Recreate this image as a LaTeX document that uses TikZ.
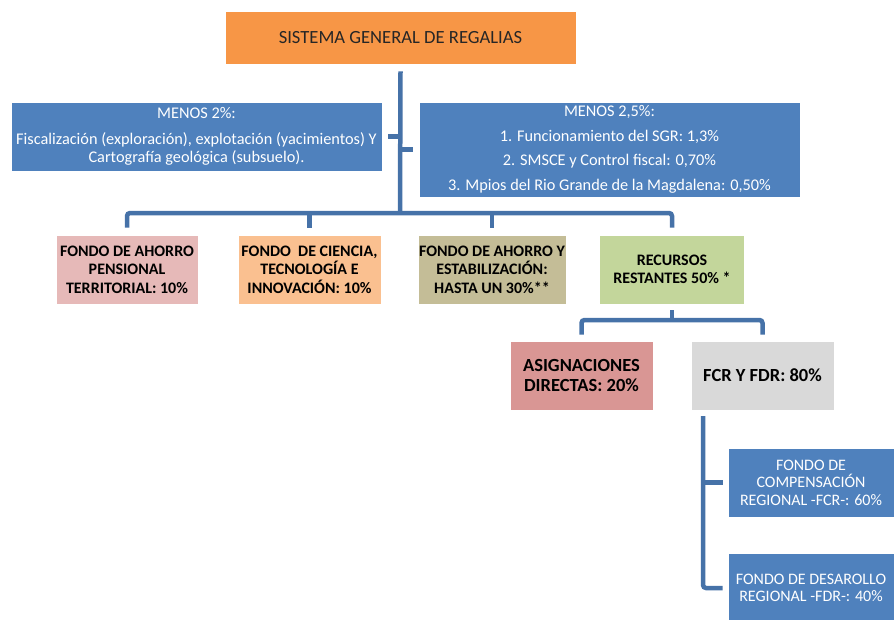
\documentclass[tikz,border=0pt]{standalone}
\usepackage{fontspec}
\setmainfont{Carlito}
\usepackage{tikz}
\definecolor{sgrorange}{HTML}{F79646}
\definecolor{boxblue}{HTML}{4F81BD}
\definecolor{linkblue}{HTML}{4672A8}
\definecolor{pinkbox}{HTML}{E6B9B8}
\definecolor{peachbox}{HTML}{FAC090}
\definecolor{khakibox}{HTML}{C4BD97}
\definecolor{greenbox}{HTML}{C3D69B}
\definecolor{rosebox}{HTML}{D99694}
\definecolor{greybox}{HTML}{D9D9D9}

\begin{document}
\begin{tikzpicture}[x=1pt,y=-1pt,
        box/.style={rectangle, draw=white, line width=0.6pt, align=center, inner sep=1pt},
        bluebox/.style={box, fill=boxblue, text=white},
        fondo/.style={box, minimum width=143pt, minimum height=69pt,
            font=\fontsize{16}{18.5}\selectfont\bfseries},
        conn/.style={draw=linkblue, line width=4.5pt, rounded corners=3pt}]
        \useasboundingbox (0,0) rectangle (894,619);

        \node[box, fill=sgrorange, text=black!85, minimum width=351pt, minimum height=53pt,
            font=\fontsize{18.6}{21}\selectfont] (sgr) at (400.5,37.5) {SISTEMA GENERAL DE REGALIAS};

        \node[bluebox, minimum width=371pt, minimum height=69pt,
            font=\fontsize{16.3}{18}\selectfont] (menos2) at (196.5,136.5)
            {MENOS 2\%:\\[8pt] Fiscalización (exploración), explotación (yacimientos) Y\\ Cartografía geológica (subsuelo).};
        \node[bluebox, minimum width=381pt, minimum height=95pt,
            font=\fontsize{16.3}{24.5}\selectfont] (menos25) at (609.5,149.5)
            {MENOS 2,5\%:\\ 1. Funcionamiento del SGR: 1,3\%\\ 2. SMSCE y Control fiscal: 0,70\%\\ 3. Mpios del Rio Grande de la Magdalena: 0,50\%};

        \node[fondo, fill=pinkbox, minimum width=142pt] (fap) at (127,269.5) {FONDO DE AHORRO\\ PENSIONAL\\ TERRITORIAL: 10\%};
        \node[fondo, fill=peachbox] (fct) at (309.5,269.5) {FONDO\ \ DE CIENCIA,\\ TECNOLOGÍA E\\ INNOVACIÓN: 10\%};
        \node[fondo, fill=khakibox, minimum width=146pt] (fae) at (492,269.5) {FONDO DE AHORRO Y\\ ESTABILIZACIÓN:\\ HASTA UN 30\%**};
        \node[fondo, fill=greenbox, minimum width=145pt] (rr) at (672,269.5) {RECURSOS\\ RESTANTES 50\% *};

        \node[fondo, fill=rosebox, font=\fontsize{18.5}{20}\selectfont\bfseries] (asig) at (581.5,375.5) {ASIGNACIONES\\ DIRECTAS: 20\%};
        \node[fondo, fill=greybox, font=\fontsize{18.5}{20}\selectfont\bfseries] (fcrfdr) at (762.5,375.5) {FCR Y FDR: 80\%};

        \node[bluebox, minimum width=166pt, minimum height=69pt,
            font=\fontsize{16}{17.5}\selectfont] (fcr) at (811,482.5) {FONDO DE\\ COMPENSACIÓN\\ REGIONAL -FCR-: 60\%};
        \node[bluebox, minimum width=166pt, minimum height=70pt,
            font=\fontsize{16}{17.5}\selectfont] (fdr) at (811,588) {FONDO DE DESAROLLO\\ REGIONAL -FDR-: 40\%};

        \coordinate (bar) at (400,213);
        \coordinate (bar2) at (672,320);
        \coordinate (spine) at (703,416);

        \draw[conn, rounded corners=0pt] ([yshift=-7pt]sgr.south) -- (bar);
        \draw[conn, rounded corners=0pt] (sgr.south |- menos2.east) -- ([xshift=6pt]menos2.east);
        \draw[conn, rounded corners=0pt] (sgr.south |- menos25.west) -- ([xshift=-6pt]menos25.west);
        \draw[conn] ([yshift=7pt]fap.north) |- (bar) -| ([yshift=7pt]rr.north);
        \foreach \n in {fct,fae}
            \draw[conn] (\n.north |- bar) -- ([yshift=7pt]\n.north);

        \draw[conn, rounded corners=0pt] ([yshift=-6pt]rr.south) -- (bar2);
        \draw[conn] ([yshift=6pt]asig.north) |- (bar2) -| ([yshift=6pt]fcrfdr.north);

        \draw[conn] (spine) |- ([xshift=-5pt]fdr.west);
        \draw[conn, rounded corners=0pt] (spine |- fcr.west) -- ([xshift=-5pt]fcr.west);
    \end{tikzpicture}
\end{document}
